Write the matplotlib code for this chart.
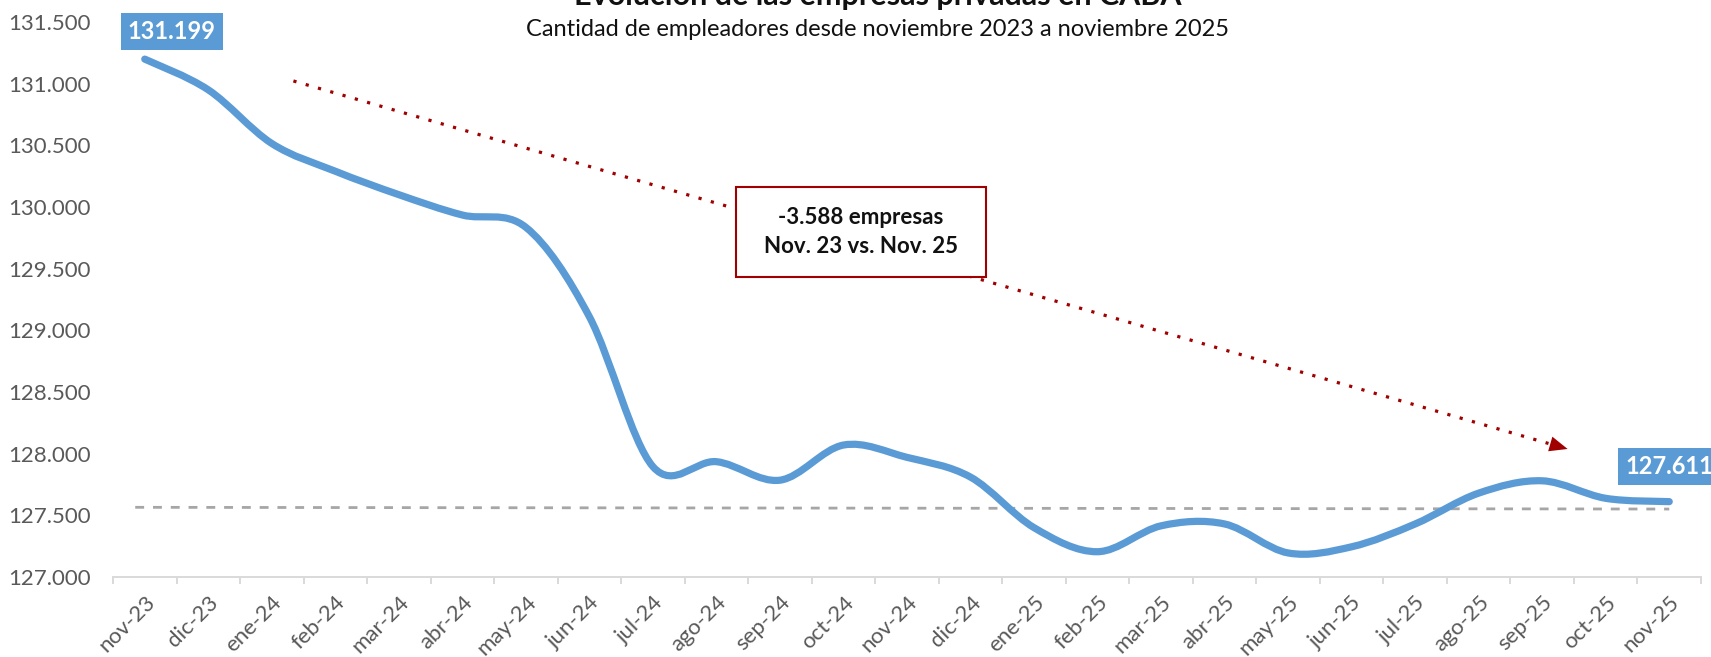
import matplotlib
matplotlib.use("Agg")
import matplotlib.pyplot as plt
from matplotlib.path import Path
from matplotlib.patches import PathPatch, Rectangle
from matplotlib.ticker import FixedLocator, FuncFormatter
import numpy as np

plt.rcParams['font.family'] = ['Lato', 'DejaVu Sans']

# ---------------- data ----------------
months = ["nov-23", "dic-23", "ene-24", "feb-24", "mar-24", "abr-24", "may-24",
          "jun-24", "jul-24", "ago-24", "sep-24", "oct-24", "nov-24", "dic-24",
          "ene-25", "feb-25", "mar-25", "abr-25", "may-25", "jun-25", "jul-25",
          "ago-25", "sep-25", "oct-25", "nov-25"]
empresas = [131199, 130950, 130515, 130290, 130100, 129935, 129835,
            129110, 127895, 127935, 127785, 128070, 127970, 127810,
            127400, 127205, 127415, 127430, 127195, 127245, 127430,
            127680, 127780, 127638, 127611]
ref_line = [127565, 127551]          # dashed grey reference line (start, end)
yticks = list(range(127000, 131501, 500))
title = "Evolución de las empresas privadas en CABA"
subtitle = "Cantidad de empleadores desde noviembre 2023 a noviembre 2025"
box_lines = ["-3.588 empresas", "Nov. 23 vs. Nov. 25"]

# ---------------- figure ----------------
W, H = 1711, 657
fig = plt.figure(figsize=(W / 100, H / 100), dpi=100)
ax = fig.add_axes([113 / W, 1 - 577 / H, 1588 / W, 555 / H])

n = len(months)
x = np.arange(n)
y = np.array(empresas, dtype=float)

# smoothed line (Catmull-Rom -> cubic Bezier), like Excel's smoothed line
verts = [(x[0], y[0])]
codes = [Path.MOVETO]
for i in range(n - 1):
    p0 = np.array([x[max(i - 1, 0)], y[max(i - 1, 0)]])
    p1 = np.array([x[i], y[i]])
    p2 = np.array([x[i + 1], y[i + 1]])
    p3 = np.array([x[min(i + 2, n - 1)], y[min(i + 2, n - 1)]])
    c1 = p1 + (p2 - p0) / 6.0
    c2 = p2 - (p3 - p1) / 6.0
    verts += [tuple(c1), tuple(c2), tuple(p2)]
    codes += [Path.CURVE4] * 3
line = PathPatch(Path(verts, codes), fill=False, ec='#5B9BD5', lw=5.2,
                 capstyle='round', joinstyle='round', zorder=3)
ax.add_patch(line)

# dashed reference line
ax.plot([-0.15, n - 1], ref_line, color='#A6A6A6', lw=2.0,
        ls=(0, (3.2, 3.2)), zorder=2)

ax.set_xlim(-0.5, n - 0.5)
ax.set_ylim(127000, 131500)

# axes styling
for s in ['top', 'right', 'left']:
    ax.spines[s].set_visible(False)
ax.spines['bottom'].set_color('#D9D9D9')
ax.spines['bottom'].set_linewidth(1.4)

ax.yaxis.set_major_locator(FixedLocator(yticks))
ax.yaxis.set_major_formatter(FuncFormatter(lambda v, p: f"{v:,.0f}".replace(',', '.')))
ax.tick_params(axis='y', length=0, pad=16, labelsize=16, labelcolor='#595959')

ax.set_xticks(x)
ax.set_xticklabels(months)
ax.xaxis.set_minor_locator(FixedLocator(np.arange(-0.5, n, 1.0)))
ax.tick_params(axis='x', which='major', length=0, pad=11, labelsize=16,
               labelcolor='#595959')
ax.tick_params(axis='x', which='minor', length=5, width=1.4, color='#D9D9D9',
               direction='out')
for lab in ax.get_xticklabels():
    lab.set_rotation(45)
    lab.set_ha('right')
    lab.set_va('top')
    lab.set_rotation_mode('anchor')

# data labels
lab_kw = dict(textcoords='offset pixels', ha='center', va='center',
              color='white', fontsize=17, fontweight='bold', zorder=6,
              bbox=dict(boxstyle='square,pad=0.3', fc='#5B9BD5', ec='none'),
              annotation_clip=False)
ax.annotate(f"{empresas[0]:,}".replace(',', '.'), xy=(0, empresas[0]),
            xytext=(27, 28), **lab_kw)
ax.annotate(f"{empresas[-1]:,}".replace(',', '.'), xy=(n - 1, empresas[-1]),
            xytext=(0, 35), **lab_kw)

# dotted red arrow: dotted shaft + solid head
red = '#A00000'
a_start = np.array([2.34, 131022.0])
a_end = np.array([22.40, 128038.0])
shaft_end = a_start + (a_end - a_start) * 0.985
ax.plot([a_start[0], shaft_end[0]], [a_start[1], shaft_end[1]], color=red,
        lw=2.3, ls=(0, (1, 3.0)), dash_capstyle='butt', zorder=4)
head_from = a_start + (a_end - a_start) * 0.99
ax.annotate('', xy=tuple(a_end), xytext=tuple(head_from),
            arrowprops=dict(arrowstyle='-|>,head_length=1.0,head_width=0.42',
                            lw=0, color=red, fc=red,
                            shrinkA=0, shrinkB=0, mutation_scale=13),
            zorder=4, annotation_clip=False)

# annotation box
rect = Rectangle((736 / W, 1 - 277 / H), 250 / W, 90 / H, transform=fig.transFigure,
                 fc='white', ec=red, lw=1.5, zorder=5)
fig.patches.append(rect)
fig.text(861 / W, 1 - 218 / H, box_lines[0], ha='center', va='center',
         fontsize=16, fontweight='bold', color='#111111', zorder=6)
fig.text(861 / W, 1 - 247 / H, box_lines[1], ha='center', va='center',
         fontsize=16, fontweight='bold', color='#111111', zorder=6)

# titles
fig.text(878 / W, 1 - 5 / H, title, ha='center', va='baseline',
         fontsize=22, fontweight='bold', color='#111111')
fig.text(877 / W, 1 - 29.5 / H, subtitle, ha='center', va='center',
         fontsize=17, color='#111111')

fig.savefig('out.png', dpi=100)
